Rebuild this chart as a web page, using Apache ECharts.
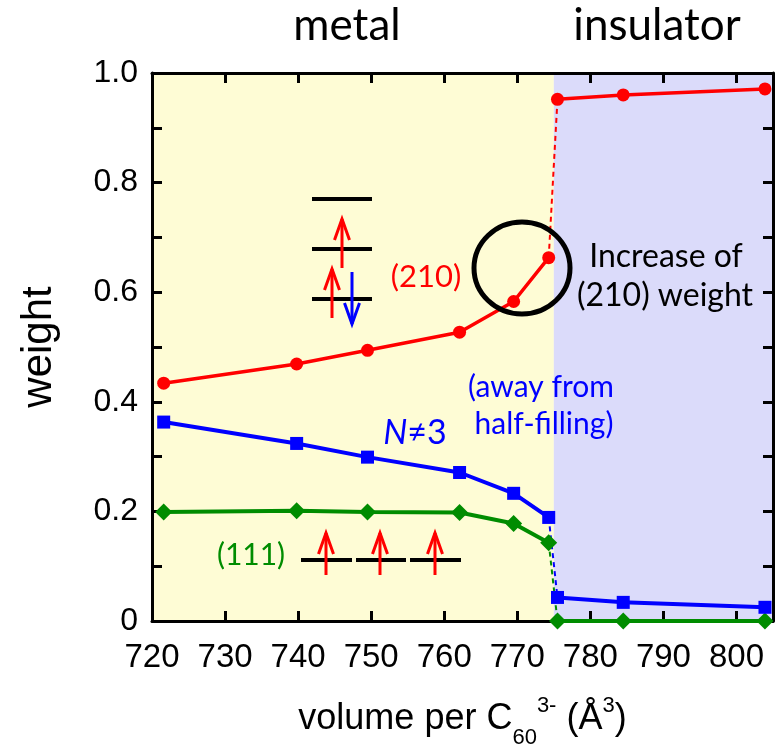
<!DOCTYPE html>
<html>
<head>
<meta charset="utf-8">
<script src="https://cdn.jsdelivr.net/npm/echarts@6/dist/echarts.min.js"></script>
<style>
html,body{margin:0;padding:0;background:#fff;}
#chart{width:781px;height:747px;}
</style>
</head>
<body>
<div id="chart"></div>
<script>
// ---- data ----
const metalX = [721.6, 739.8, 749.5, 762.1, 769.5, 774.3];
const insX = [775.5, 784.5, 803.9];
const w210Metal = [0.434, 0.469, 0.494, 0.527, 0.583, 0.663];
const w210Ins = [0.952, 0.960, 0.971];
const wNMetal = [0.363, 0.324, 0.299, 0.271, 0.233, 0.189];
const wNIns = [0.043, 0.034, 0.025];
const w111Metal = [0.199, 0.201, 0.199, 0.198, 0.178, 0.143];
const w111Ins = [0.0, 0.0, 0.0];
const regionBounds = [720, 775, 805];
const regionNames = ['metal', 'insulator'];
const xTicks = [720, 730, 740, 750, 760, 770, 780, 790, 800];
const yTicks = [0, 0.2, 0.4, 0.6, 0.8, 1.0];

const pairs = (xs, ys) => xs.map((x, i) => [x, ys[i]]);
const bridge = (xs1, ys1, xs2, ys2) => [[xs1[xs1.length-1], ys1[ys1.length-1]], [xs2[0], ys2[0]]];

const RED = '#FF0000', BLUE = '#0000FF', GREEN = '#008C00';
const SANS = '"Liberation Sans", Arial, sans-serif';
const CAL = 'Lato, "Open Sans", sans-serif';

const chart = echarts.init(document.getElementById('chart'));

function solid(data, color, symbol, size, lw) {
  return {type:'line', data, xAxisIndex:0, yAxisIndex:0, z:3, symbol, symbolSize:size,
    lineStyle:{color, width:lw}, itemStyle:{color}, animation:false, silent:true};
}
function dashed(data, color) {
  return {type:'line', data, xAxisIndex:0, yAxisIndex:0, z:2, symbol:'none',
    lineStyle:{color, width:2, type:[5,4]}, animation:false, silent:true};
}
function arrow(x, yTail, yTip, color, lw) {
  const d = yTip < yTail ? 1 : -1;
  return [
    {type:'line', shape:{x1:x, y1:yTail, x2:x, y2:yTip}, style:{stroke:color, lineWidth:lw}, z:20},
    {type:'polyline', shape:{points:[[x-7.5, yTip+d*21],[x, yTip],[x+7.5, yTip+d*21]]}, style:{stroke:color, lineWidth:lw, fill:null}, z:20}
  ];
}
function bar(x1, x2, y) {
  return {type:'line', shape:{x1, y1:y, x2, y2:y}, style:{stroke:'#000', lineWidth:4}, z:19};
}

const axisLineStyle = {show:true, onZero:false, lineStyle:{color:'#000', width:3}};
const tickStyle = {show:true, inside:true, length:10, lineStyle:{color:'#000', width:3}};

const option = {
  animation:false,
  backgroundColor:'#fff',
  grid:{left:152, top:73, width:621, height:548, containLabel:false, outerBoundsMode:'none'},
  xAxis:[{
    type:'value', min:regionBounds[0], max:regionBounds[2], interval:10, position:'bottom', z:1,
    axisLine:axisLineStyle, axisTick:tickStyle, splitLine:{show:false},
    axisLabel:{color:'#000', fontSize:33, fontFamily:SANS, margin:20,
      formatter:v => xTicks.includes(v) ? String(v) : ''},
    name:'{a|volume per C}{sub|60}{sup|3-}{a| (Å}{sup2|3}{a|)}',
    nameLocation:'middle', nameGap:74,
    nameTextStyle:{rich:{
      a:{fontSize:36, fontFamily:SANS, color:'#000', lineHeight:42, verticalAlign:'bottom'},
      sub:{fontSize:22, fontFamily:SANS, color:'#000', verticalAlign:'bottom', lineHeight:42, padding:[0,0,-12,0]},
      sup:{fontSize:22, fontFamily:SANS, color:'#000', verticalAlign:'top', lineHeight:42},
      sup2:{fontSize:22, fontFamily:SANS, color:'#000', verticalAlign:'top', lineHeight:42}
    }}
  },{
    type:'value', min:regionBounds[0], max:regionBounds[2], interval:10, position:'top', z:1,
    axisLine:axisLineStyle, axisTick:tickStyle, axisLabel:{show:false}, splitLine:{show:false}
  }],
  yAxis:[{
    type:'value', min:0, max:1, interval:0.2, position:'left', z:1,
    axisLine:axisLineStyle, axisTick:tickStyle, splitLine:{show:false},
    minorTick:{show:true, splitNumber:2, length:10, lineStyle:{color:'#000', width:3}},
    axisLabel:{color:'#000', fontSize:32, fontFamily:SANS, margin:14,
      formatter:v => yTicks.some(t => Math.abs(t - v) < 1e-9) ? (v === 0 ? '0' : v.toFixed(1)) : ''},
    name:'weight', nameLocation:'middle', nameGap:92, nameRotate:90,
    nameTextStyle:{color:'#000', fontSize:42, fontFamily:SANS}
  },{
    type:'value', min:0, max:1, interval:0.2, position:'right', z:1,
    axisLine:axisLineStyle, axisTick:tickStyle, axisLabel:{show:false}, splitLine:{show:false},
    minorTick:{show:true, splitNumber:2, length:10, lineStyle:{color:'#000', width:3}}
  }],
  series:[
    {type:'line', data:[], z:0, silent:true, markArea:{silent:true, data:[
      [{xAxis:regionBounds[0], itemStyle:{color:'#FEFCD5'}}, {xAxis:regionBounds[1]}],
      [{xAxis:regionBounds[1], itemStyle:{color:'#DBDBFA'}}, {xAxis:regionBounds[2]}]
    ]}},
    dashed(bridge(metalX, w111Metal, insX, w111Ins), GREEN),
    dashed(bridge(metalX, wNMetal, insX, wNIns), BLUE),
    dashed(bridge(metalX, w210Metal, insX, w210Ins), RED),
    solid(pairs(metalX, w111Metal), GREEN, 'diamond', 17, 4),
    solid(pairs(insX, w111Ins), GREEN, 'diamond', 17, 4),
    solid(pairs(metalX, wNMetal), BLUE, 'rect', 13, 4),
    solid(pairs(insX, wNIns), BLUE, 'rect', 13, 4),
    solid(pairs(metalX, w210Metal), RED, 'circle', 13, 3.5),
    solid(pairs(insX, w210Ins), RED, 'circle', 13, 3.5)
  ],
  graphic:[
    {type:'text', x:347, y:26, style:{text:regionNames[0], font:'44px ' + CAL, fill:'#000', align:'center', verticalAlign:'middle'}},
    {type:'text', x:657, y:26, style:{text:regionNames[1], font:'44px ' + CAL, fill:'#000', align:'center', verticalAlign:'middle'}},
    {type:'text', x:426, y:277, z:20, style:{text:'(210)', font:'31px ' + CAL, fill:RED, align:'center', verticalAlign:'middle'}},
    {type:'text', x:415, y:433, z:20, style:{text:'{i|N}{n|≠3}', align:'center', verticalAlign:'middle',
      rich:{i:{font:'italic 34px ' + CAL, fill:BLUE}, n:{font:'34px ' + CAL, fill:BLUE}}}},
    {type:'text', x:251, y:555, z:20, style:{text:'(111)', font:'30px ' + CAL, fill:GREEN, align:'center', verticalAlign:'middle'}},
    {type:'text', x:666, y:257, z:20, style:{text:'Increase of', font:'32px ' + CAL, fill:'#000', align:'center', verticalAlign:'middle'}},
    {type:'text', x:665, y:296, z:20, style:{text:'(210) weight', font:'32px ' + CAL, fill:'#000', align:'center', verticalAlign:'middle'}},
    {type:'text', x:541, y:387, z:20, style:{text:'(away from', font:'30px ' + CAL, fill:BLUE, align:'center', verticalAlign:'middle'}},
    {type:'text', x:544, y:424, z:20, style:{text:'half-filling)', font:'30px ' + CAL, fill:BLUE, align:'center', verticalAlign:'middle'}},
    {type:'ellipse', shape:{cx:522, cy:268, rx:48, ry:46}, style:{stroke:'#000', lineWidth:5, fill:null}, z:21},
    bar(312, 372, 199), bar(312, 372, 249), bar(312, 372, 299),
    ...arrow(342, 268, 219, RED, 3),
    ...arrow(332, 318, 269, RED, 3),
    ...arrow(352, 272, 324, BLUE, 3),
    bar(301, 352, 560), bar(356, 406, 560), bar(410, 461, 560),
    ...arrow(326, 575, 533, RED, 3),
    ...arrow(380, 575, 533, RED, 3),
    ...arrow(435, 575, 533, RED, 3)
  ]
};
chart.setOption(option);
</script>
</body>
</html>
